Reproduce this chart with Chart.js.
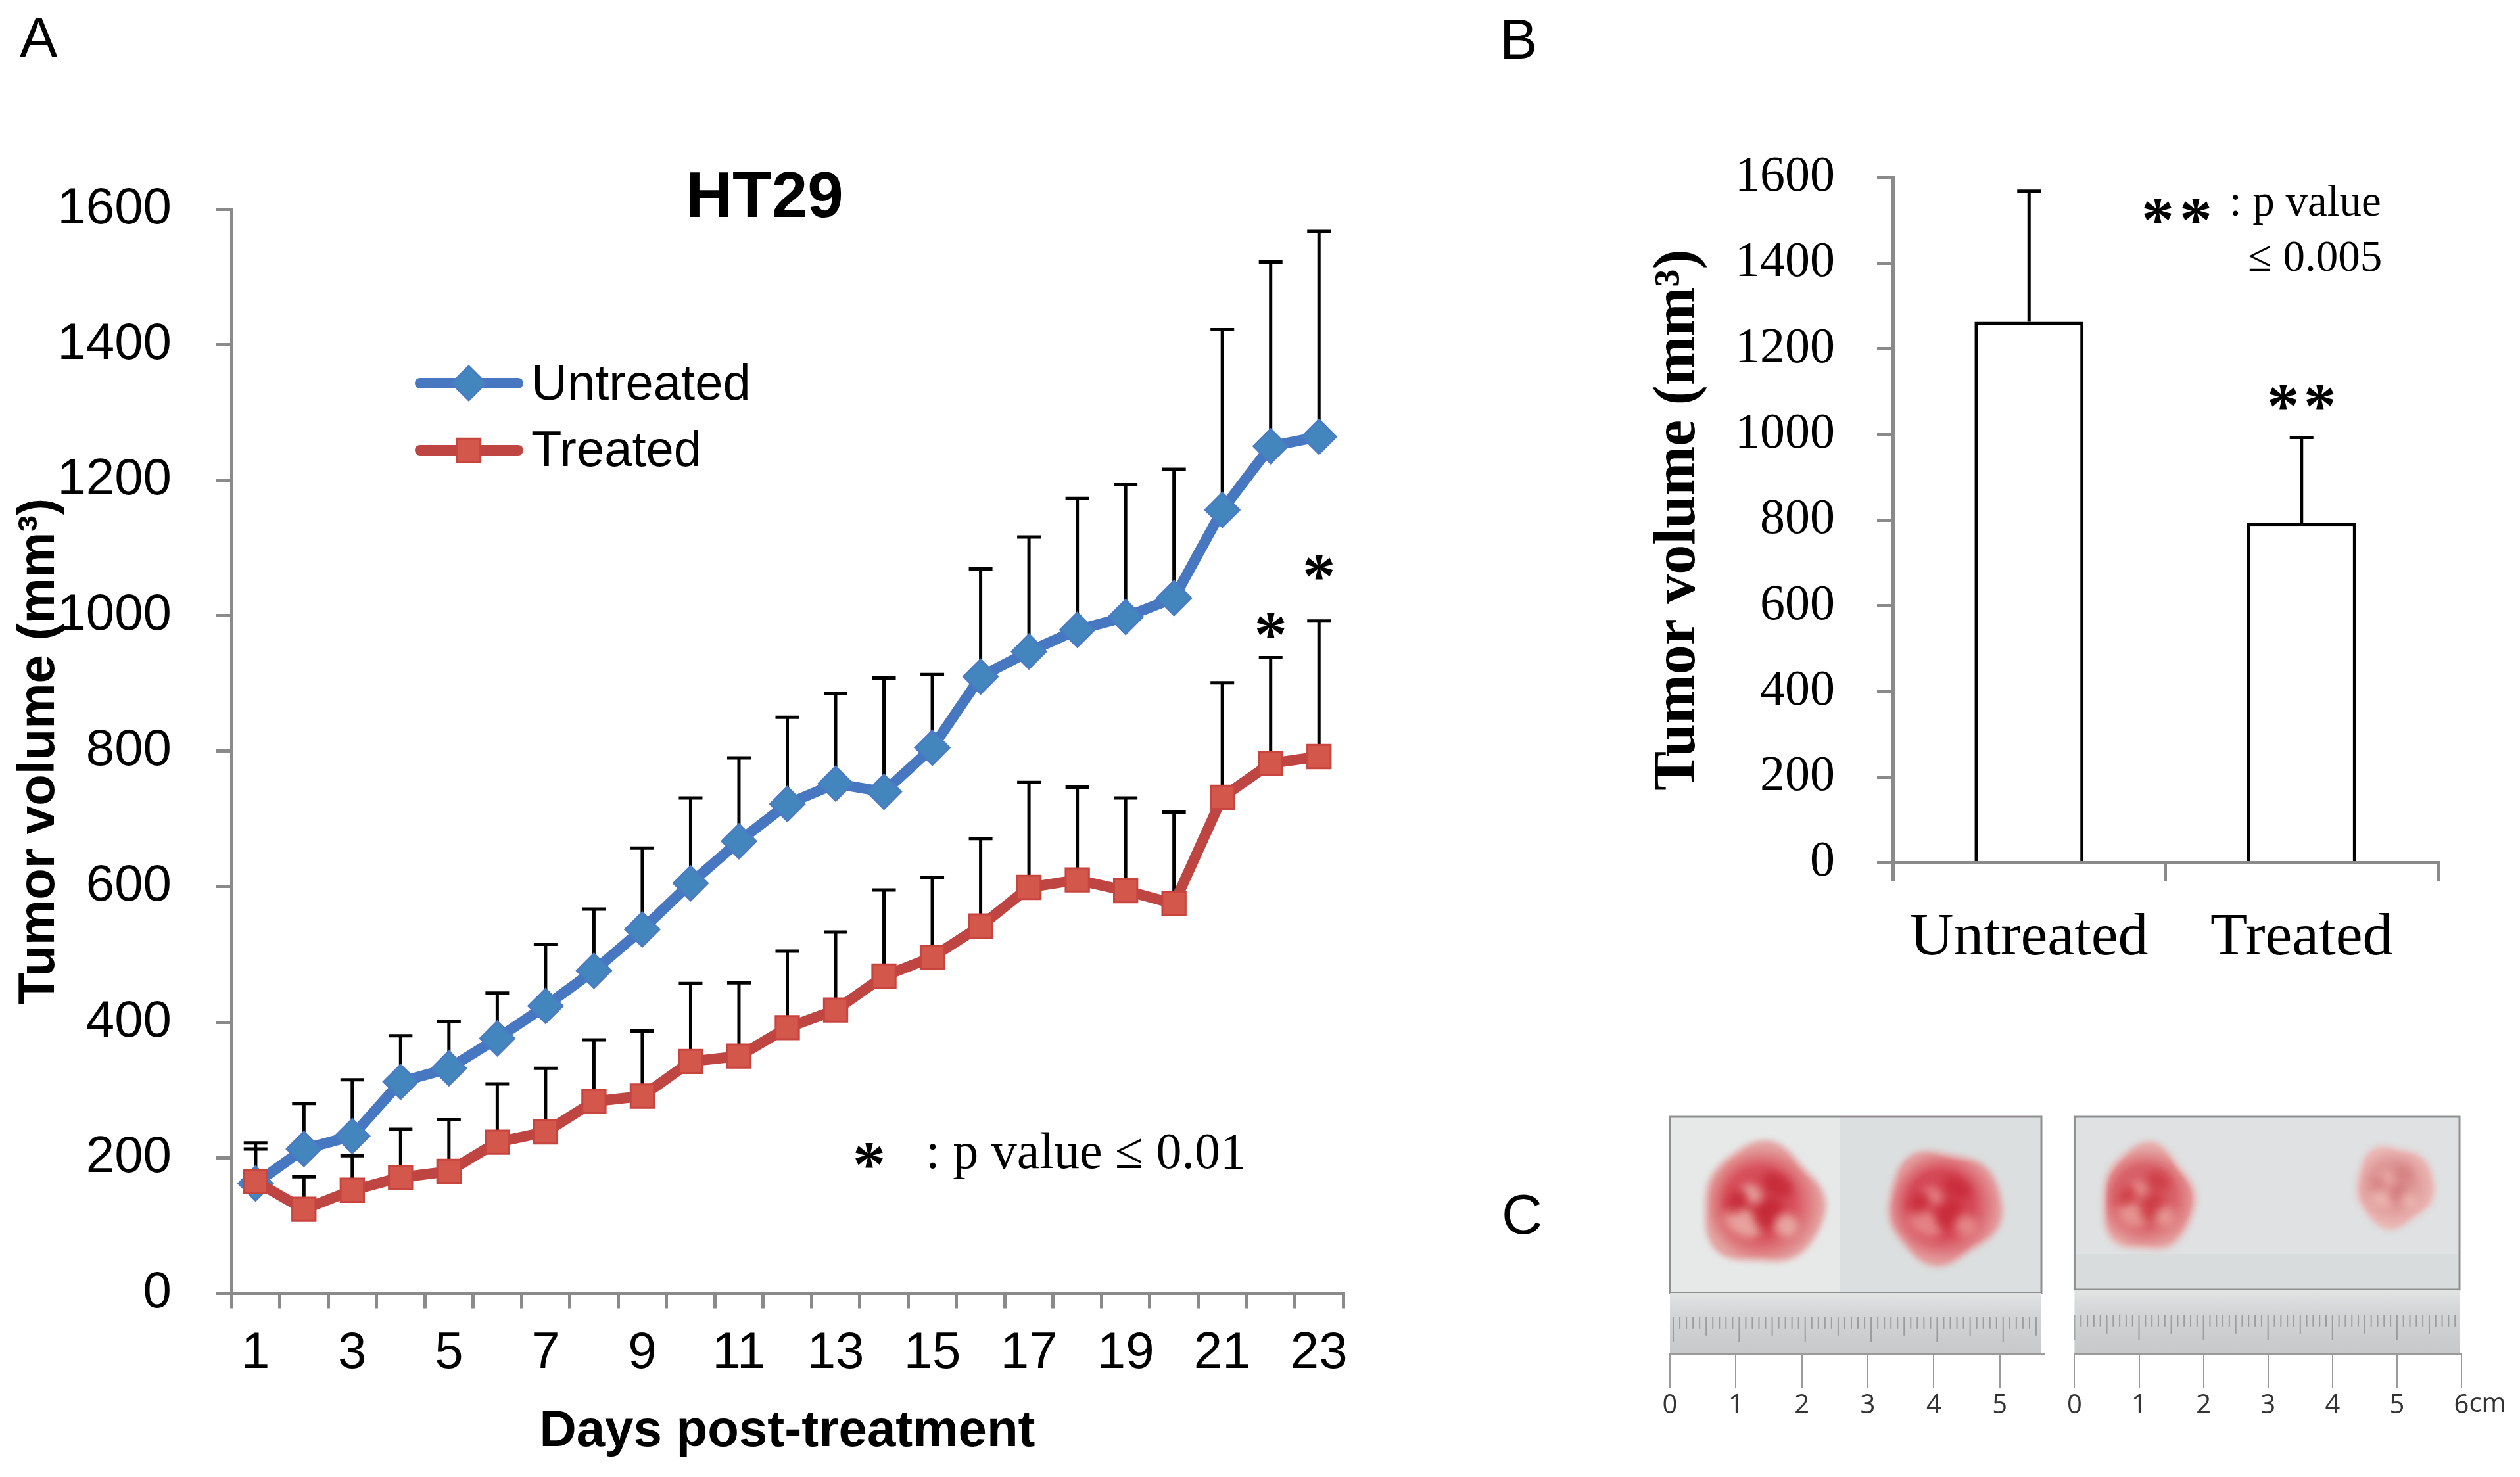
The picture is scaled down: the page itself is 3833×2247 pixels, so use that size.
<!DOCTYPE html>
<html><head><meta charset="utf-8">
<script src="https://cdn.jsdelivr.net/npm/chart.js@4.4.1/dist/chart.umd.min.js"></script>
<style>
html,body{margin:0;padding:0;background:#fff;}
body{width:3833px;height:2247px;position:relative;overflow:hidden;}
canvas{position:absolute;}
.lbl{position:absolute;font-family:'Liberation Sans',Arial,sans-serif;font-size:86px;line-height:86px;color:#000;}
</style></head><body>
<div class="lbl" style="left:30px;top:13px">A</div>
<div class="lbl" style="left:2281px;top:16px">B</div>
<div class="lbl" style="left:2284px;top:1804px">C</div>
<canvas id="cA" width="2150" height="2247" style="left:0;top:0;width:2150px;height:2247px"></canvas>
<canvas id="cB" width="1600" height="1560" style="left:2200px;top:0;width:1600px;height:1560px"></canvas>
<canvas id="cC1" width="640" height="550" style="left:2500px;top:1650px;width:640px;height:550px"></canvas>
<canvas id="cC2" width="693" height="550" style="left:3140px;top:1650px;width:693px;height:550px"></canvas>
<script>
// ---------------- DATA ----------------
const days = ['1','2','3','4','5','6','7','8','9','10','11','12','13','14','15','16','17','18','19','20','21','22','23'];
const untreatedMean  = [162, 213, 232, 312, 332, 376, 424, 476, 537, 605, 667, 722, 752, 740, 805, 910, 947, 979, 998, 1026, 1156, 1250, 1264];
const untreatedUpper = [222, 280, 315, 380, 401, 443, 515, 567, 657, 731, 790, 850, 885, 908, 913, 1069, 1116, 1173, 1193, 1216, 1422, 1522, 1567];
const treatedMean    = [165, 124, 152, 171, 180, 223, 238, 283, 291, 342, 350, 392, 418, 468, 496, 542, 599, 610, 594, 575, 732, 782, 792];
const treatedUpper   = [213, 172, 203, 242, 256, 309, 332, 374, 387, 457, 458, 505, 533, 595, 613, 671, 754, 747, 731, 710, 901, 938, 992];
const sigDays  = ['22', '23'];
const sigLevel = [986, 1072];

const groups     = ['Untreated', 'Treated'];
const finalMean  = [1263, 794];
const finalUpper = [1568, 993];
const barSigLevel = 1089;

const cmTicksLeft  = [0, 1, 2, 3, 4, 5];
const cmTicksRight = [0, 1, 2, 3, 4, 5, 6];
const tumorLeftX  = [1.41, 4.15];
const tumorLeftY  = [2.25, 2.23];
const tumorLeftRX = [0.88, 0.83];
const tumorLeftRY = [0.88, 0.82];
const tumorRightX  = [1.13, 4.96];
const tumorRightY  = [2.37, 2.56];
const tumorRightRX = [0.69, 0.58];
const tumorRightRY = [0.79, 0.60];

// ---------------- STYLE ----------------
const SANS = "'Liberation Sans', Arial, sans-serif";
const SERIF = "'Liberation Serif', 'Times New Roman', serif";
const AXIS = '#8a8a8a';

function star(ctx, cx, cy, size) {
  size = size || 100;
  ctx.save();
  ctx.fillStyle = '#000';
  ctx.font = 'bold ' + size + 'px ' + SERIF;
  ctx.textAlign = 'center';
  ctx.textBaseline = 'alphabetic';
  ctx.fillText('*', cx, cy + 0.47 * size);
  ctx.restore();
}

function drawErr(chart) {
  const ctx = chart.ctx, ys = chart.scales.y;
  ctx.save();
  ctx.strokeStyle = '#000';
  ctx.lineWidth = 5;
  chart.data.datasets.forEach((ds, di) => {
    const meta = chart.getDatasetMeta(di);
    (ds.upper || []).forEach((u, i) => {
      const el = meta.data[i];
      const x = el.x;
      const y0 = ys.getPixelForValue(ds.data[i]);
      const y1 = ys.getPixelForValue(u);
      ctx.beginPath(); ctx.moveTo(x, y0); ctx.lineTo(x, y1); ctx.stroke();
      ctx.beginPath(); ctx.moveTo(x - 18, y1); ctx.lineTo(x + 18, y1); ctx.stroke();
    });
  });
  ctx.restore();
}
const errorBars = {
  id: 'errorBars',
  beforeDatasetsDraw(chart, args, opts) { if (opts.when === 'before') drawErr(chart); },
  afterDatasetsDraw(chart, args, opts) { if (opts.when === 'after') drawErr(chart); }
};

function marker(ctx, ds, x, y) {
  ctx.save();
  ctx.fillStyle = ds.pointBackgroundColor;
  ctx.strokeStyle = ds.pointBorderColor;
  ctx.lineWidth = ds.pointBorderWidth;
  const r = ds.pointRadius;
  ctx.beginPath();
  if (ds.pointStyle === 'rectRot') {
    ctx.moveTo(x, y - r); ctx.lineTo(x + r, y); ctx.lineTo(x, y + r); ctx.lineTo(x - r, y); ctx.closePath();
  } else {
    const s = r * Math.SQRT1_2;
    ctx.rect(x - s, y - s, 2 * s, 2 * s);
  }
  ctx.fill(); ctx.stroke();
  ctx.restore();
}

const annotA = {
  id: 'annotA',
  afterDraw(chart) {
    const ctx = chart.ctx, xs = chart.scales.x, ys = chart.scales.y;
    ctx.save();
    ctx.fillStyle = '#000';
    ctx.font = 'bold 98px ' + SANS;
    ctx.textAlign = 'center';
    ctx.textBaseline = 'alphabetic';
    ctx.fillText('HT29', 1163, 330);
    sigDays.forEach((d, i) => {
      star(ctx, xs.getPixelForValue(days.indexOf(d)), ys.getPixelForValue(sigLevel[i]), 100);
    });
    star(ctx, 1322, 1757, 100);
    ctx.fillStyle = '#000';
    ctx.font = '78px ' + SERIF;
    ctx.textAlign = 'left';
    ctx.fillText(': p value \u2264 0.01', 1408, 1777);
    // legend
    const legLineY = [583, 685];
    const legTextY = [608, 709];
    [0, 1].forEach((di, k) => {
      const ds = chart.data.datasets[di];
      const y = legLineY[k];
      ctx.strokeStyle = ds.borderColor;
      ctx.lineWidth = 16;
      ctx.lineCap = 'round';
      ctx.beginPath(); ctx.moveTo(639, y); ctx.lineTo(788, y); ctx.stroke();
      marker(ctx, ds, 713, y);
      ctx.fillStyle = '#000';
      ctx.font = '76px ' + SANS;
      ctx.textAlign = 'left';
      ctx.fillText(ds.label, 808, legTextY[k]);
    });
    ctx.restore();
  }
};

const annotB = {
  id: 'annotB',
  afterDraw(chart) {
    const ctx = chart.ctx, ys = chart.scales.y;
    const meta = chart.getDatasetMeta(0);
    ctx.save();
    const bx = meta.data[1].x;
    const by = ys.getPixelForValue(barSigLevel);
    star(ctx, bx - 28, by, 100);
    star(ctx, bx + 28, by, 100);
    star(ctx, 1082, 320, 100);
    star(ctx, 1140, 320, 100);
    ctx.fillStyle = '#000';
    ctx.font = '67px ' + SERIF;
    ctx.textAlign = 'left';
    ctx.textBaseline = 'alphabetic';
    ctx.fillText(': p value', 1191, 328);
    ctx.fillText('\u2264 0.005', 1219, 412);
    ctx.restore();
  }
};

function blobPath(ctx, cx, cy, rx, ry, ph) {
  ctx.beginPath();
  for (let k = 0; k <= 72; k++) {
    const t = k / 72 * Math.PI * 2;
    const m = 1 + 0.05 * Math.sin(3 * t + ph) + 0.035 * Math.cos(5 * t + 2 * ph);
    const px = cx + Math.cos(t) * rx * m, py = cy + Math.sin(t) * ry * m;
    if (k === 0) ctx.moveTo(px, py); else ctx.lineTo(px, py);
  }
  ctx.closePath();
}

const photoPlugin = {
  id: 'photo',
  beforeDraw(chart, args, o) {
    const ctx = chart.ctx, xs = chart.scales.x, ys = chart.scales.y;
    const a = chart.chartArea;
    const boxBottom = a.bottom - o.rulerH;
    const boxW = a.right - a.left - o.boxInset;
    ctx.save();
    ctx.fillStyle = o.bg2;
    ctx.fillRect(a.left, a.top, boxW, boxBottom - a.top);
    ctx.fillStyle = o.bg1;
    ctx.fillRect(a.left, a.top, o.split, boxBottom - a.top);
    if (o.bgLow) {
      ctx.fillStyle = o.bgLow;
      ctx.fillRect(a.left, boxBottom - 55, boxW, 55);
    }
    o.tx.forEach((tx, i) => {
      const cx = xs.getPixelForValue(tx), cy = ys.getPixelForValue(o.ty[i]);
      const rx = xs.getPixelForValue(tx + o.rx[i]) - cx;
      const ry = cy - ys.getPixelForValue(o.ty[i] + o.ry[i]);
      // soft halo
      ctx.save();
      ctx.filter = 'blur(5px)';
      blobPath(ctx, cx, cy, rx * 1.04, ry * 1.04, i * 1.7 + 0.4);
      ctx.fillStyle = o.c2[i];
      ctx.fill();
      ctx.restore();
      // body
      const g = ctx.createRadialGradient(cx - rx * 0.15, cy - ry * 0.1, 0, cx, cy, Math.max(rx, ry));
      g.addColorStop(0, o.c0[i]);
      g.addColorStop(0.6, o.c1[i]);
      g.addColorStop(1, o.c2[i]);
      ctx.save();
      ctx.filter = 'blur(2px)';
      blobPath(ctx, cx, cy, rx * 0.96, ry * 0.96, i * 1.7 + 0.4);
      ctx.fillStyle = g;
      ctx.fill();
      ctx.restore();
      // mottling
      ctx.save();
      blobPath(ctx, cx, cy, rx * 0.9, ry * 0.9, i * 1.7 + 0.4);
      ctx.clip();
      ctx.filter = 'blur(7px)';
      const spots = [[-0.35, 0.3, 0.35, 0.22, 'light'], [0.25, -0.35, 0.28, 0.18, 'dark'], [0.1, 0.15, 0.22, 0.3, 'dark'],
                     [-0.2, -0.2, 0.2, 0.15, 'light'], [0.4, 0.35, 0.2, 0.2, 'light'], [-0.45, -0.05, 0.15, 0.25, 'dark']];
      spots.forEach((s) => {
        ctx.fillStyle = s[4] === 'light' ? o.spotL[i] : o.spotD[i];
        ctx.beginPath();
        ctx.ellipse(cx + s[0] * rx, cy + s[1] * ry, s[2] * rx, s[3] * ry, 0.6, 0, Math.PI * 2);
        ctx.fill();
      });
      ctx.restore();
    });
    ctx.strokeStyle = '#8f8f8f';
    ctx.lineWidth = 3;
    ctx.strokeRect(a.left, a.top, boxW, boxBottom - a.top);
    const rg = ctx.createLinearGradient(0, boxBottom, 0, a.bottom);
    rg.addColorStop(0, '#e2e4e4');
    rg.addColorStop(0.35, '#d3d5d6');
    rg.addColorStop(1, '#c6c8c9');
    ctx.fillStyle = rg;
    ctx.fillRect(a.left, boxBottom, boxW, o.rulerH);
    ctx.strokeStyle = 'rgba(105,105,105,0.5)';
    ctx.lineWidth = 2;
    for (let k = 0; k <= Math.floor(xs.max * 10); k++) {
      const px = xs.getPixelForValue(k / 10 + o.rulerShift);
      if (px > a.left + boxW - 2) continue;
      const len = (k % 10 === 0) ? 38 : (k % 5 === 0 ? 28 : 18);
      const top = boxBottom + o.rulerH * 0.4;
      ctx.beginPath(); ctx.moveTo(px, top); ctx.lineTo(px, top + len); ctx.stroke();
    }
    ctx.restore();
  },
  afterDraw(chart, args, o) {
    if (!o.cm) return;
    const ctx = chart.ctx, xs = chart.scales.x;
    const a = chart.chartArea;
    ctx.save();
    ctx.font = '40px "Open Sans", sans-serif';
    ctx.fillStyle = '#333';
    ctx.textAlign = 'left';
    ctx.textBaseline = 'alphabetic';
    const px = xs.getPixelForValue(xs.max) + ctx.measureText('6').width / 2;
    ctx.fillText('cm', px, a.bottom + 89);
    ctx.restore();
  }
};

// ---------------- CHART A ----------------
new Chart(document.getElementById('cA'), {
  type: 'line',
  data: {
    labels: days,
    datasets: [
      { label: 'Untreated', data: untreatedMean, upper: untreatedUpper, order: 1,
        borderColor: '#4677c0', backgroundColor: '#4286bd', borderWidth: 16, tension: 0,
        pointStyle: 'rectRot', pointRadius: 26, pointBackgroundColor: '#4286bd', pointBorderColor: '#4a7bc4', pointBorderWidth: 3 },
      { label: 'Treated', data: treatedMean, upper: treatedUpper, order: 0,
        borderColor: '#be4542', backgroundColor: '#d3574a', borderWidth: 16, tension: 0,
        pointStyle: 'rect', pointRadius: 25, pointBackgroundColor: '#d3574a', pointBorderColor: '#c8453f', pointBorderWidth: 3 }
    ]
  },
  options: {
    responsive: false, animation: false, devicePixelRatio: 1, events: [],
    layout: { padding: { left: 0, top: 318, right: 107, bottom: 0 } },
    plugins: { legend: { display: false }, tooltip: { enabled: false }, errorBars: { when: 'before' } },
    scales: {
      x: {
        type: 'category', offset: true,
        grid: { offset: true, drawOnChartArea: false, drawTicks: true, tickLength: 23, lineWidth: 5, color: AXIS },
        border: { display: true, color: AXIS, width: 5 },
        ticks: { autoSkip: false, maxRotation: 0, padding: 22, color: '#000', font: { family: SANS, size: 78 },
          callback: function (v, i) { return i % 2 === 0 ? this.getLabelForValue(v) : ''; } },
        title: { display: true, text: 'Days post-treatment', color: '#000', font: { family: SANS, size: 78, weight: 'bold' }, padding: { top: 0, bottom: 22 } },
        afterFit(s) { s.height = 2247 - 1967.5; }
      },
      y: {
        min: 0, max: 1600,
        grid: { drawOnChartArea: false, drawTicks: true, tickLength: 23, lineWidth: 5, color: AXIS },
        border: { display: true, color: AXIS, width: 5 },
        ticks: { stepSize: 200, padding: 68, color: '#000', font: { family: SANS, size: 78 }, callback: (v) => String(v) },
        title: { display: true, text: 'Tumor volume (mm\u00B3)', color: '#000', font: { family: SANS, size: 78, weight: 'bold' }, padding: { top: 14, bottom: 0 } },
        afterFit(s) { s.width = 352; }
      }
    }
  },
  plugins: [errorBars, annotA]
});

// ---------------- CHART B ----------------
new Chart(document.getElementById('cB'), {
  type: 'bar',
  data: {
    labels: groups,
    datasets: [{ data: finalMean, upper: finalUpper, backgroundColor: '#ffffff', borderColor: '#000000', borderWidth: 5,
      borderSkipped: 'bottom', categoryPercentage: 1.0, barPercentage: 0.4 }]
  },
  options: {
    responsive: false, animation: false, devicePixelRatio: 1, events: [],
    layout: { padding: { left: 0, top: 270, right: 92, bottom: 0 } },
    plugins: { legend: { display: false }, tooltip: { enabled: false }, errorBars: { when: 'after' } },
    scales: {
      x: {
        grid: { offset: true, drawOnChartArea: false, drawTicks: true, tickLength: 28, lineWidth: 5, color: AXIS },
        border: { display: true, color: AXIS, width: 5 },
        ticks: { padding: 32, color: '#000', font: { family: SERIF, size: 92 } },
        afterFit(s) { s.height = 1560 - 1312.5; }
      },
      y: {
        min: 0, max: 1600,
        grid: { drawOnChartArea: false, drawTicks: true, tickLength: 24, lineWidth: 5, color: AXIS },
        border: { display: true, color: AXIS, width: 5 },
        ticks: { stepSize: 200, padding: 64, color: '#000', font: { family: SERIF, size: 76 }, callback: (v) => String(v) },
        title: { display: true, text: 'Tumor volume (mm\u00B3)', color: '#000', font: { family: SERIF, size: 90, weight: 'bold' }, padding: { top: 300, bottom: 0 } },
        afterFit(s) { s.width = 679; }
      }
    }
  },
  plugins: [errorBars, annotB]
});

// ---------------- CHART C ----------------
function photoChart(id, ticksArr, maxCm, yMax, padRight, padLeft, photoOpts) {
  return new Chart(document.getElementById(id), {
    type: 'scatter',
    data: { datasets: [] },
    options: {
      responsive: false, animation: false, devicePixelRatio: 1, events: [],
      layout: { padding: { left: padLeft, top: 49, right: padRight, bottom: 0 } },
      plugins: { legend: { display: false }, tooltip: { enabled: false }, photo: photoOpts },
      scales: {
        x: {
          type: 'linear', min: 0, max: maxCm,
          grid: { drawOnChartArea: false, drawTicks: true, tickLength: 52, lineWidth: 2, color: '#9a9a9a' },
          border: { display: true, color: '#9a9a9a', width: 3 },
          ticks: { stepSize: 1, includeBounds: false, padding: 4, color: '#333', font: { family: "'Open Sans', sans-serif", size: 40 },
            callback: (v) => ticksArr.includes(v) ? String(v) : '' },
          afterFit(s) { s.height = 141; }
        },
        y: { type: 'linear', min: 0, max: yMax, display: false }
      }
    },
    plugins: [photoPlugin]
  });
}
photoChart('cC1', cmTicksLeft, 5.67, 3.59, 31, 40, {
  rulerH: 92, split: 258, bg1: '#e7e9e9', bg2: '#dcdfdf', bgLow: null, boxInset: 4, rulerShift: 0.05,
  tx: tumorLeftX, ty: tumorLeftY, rx: tumorLeftRX, ry: tumorLeftRY,
  c0: ['#cf3a48', '#d23c4c'], c1: ['#d8515c', '#d64a58'], c2: ['#e3a19f', '#e39a9b'],
  spotL: ['rgba(240,200,190,0.7)', 'rgba(238,170,165,0.6)'], spotD: ['rgba(190,25,40,0.6)', 'rgba(195,30,45,0.6)'], cm: false
});
photoChart('cC2', cmTicksRight, 6, 3.63, 89, 9, {
  rulerH: 97, split: 0, bg1: '#dfe1e2', bg2: '#dfe1e2', bgLow: '#d9dcdc', boxInset: 3, rulerShift: 0.0,
  tx: tumorRightX, ty: tumorRightY, rx: tumorRightRX, ry: tumorRightRY,
  c0: ['#d6505a', '#dc8c8c'], c1: ['#d9636a', '#df9a98'], c2: ['#e6aaa8', '#eab8b5'],
  spotL: ['rgba(240,185,175,0.6)', 'rgba(245,200,190,0.6)'], spotD: ['rgba(200,40,50,0.55)', 'rgba(205,110,115,0.5)'], cm: true
});
</script>
</body></html>
